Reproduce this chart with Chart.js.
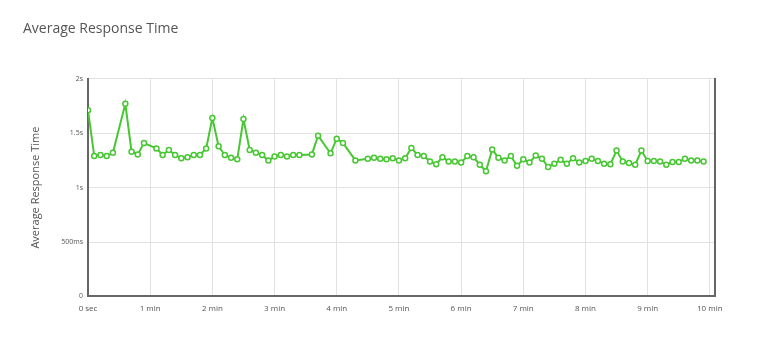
<!DOCTYPE html>
<html>
<head>
<meta charset="utf-8">
<script src="https://cdn.jsdelivr.net/npm/chart.js@4.4.1/dist/chart.umd.min.js"></script>
<style>
  html, body { margin: 0; padding: 0; background: #fff; }
  #chart { display: block; }
</style>
</head>
<body>
<canvas id="chart" width="764" height="340"></canvas>
<script>
// sample times in seconds, values in seconds
const times = [
  0, 6, 12, 18, 24, 36, 42, 48, 54, 66, 72, 78, 84, 90, 96, 102, 108, 114, 120, 126, 132, 138, 144, 150,
  156, 162, 168, 174, 180, 186, 192, 198, 204, 216, 222, 234, 240, 246, 258, 270, 276, 282, 288, 294, 300,
  306, 312, 318, 324, 330, 336, 342, 348, 354, 360, 366, 372, 378, 384, 390, 396, 402, 408, 414, 420, 426, 432, 438, 444, 450,
  456, 462, 468, 474, 480, 486, 492, 498, 504, 510, 516, 522, 528, 534, 540, 546, 552, 558, 564, 570, 576, 582, 588, 594
];
const responseTimes = [
  1.71, 1.29, 1.30, 1.29, 1.32, 1.77, 1.33, 1.305, 1.41, 1.36, 1.30, 1.345, 1.30, 1.27, 1.28, 1.30, 1.30, 1.36, 1.64, 1.38, 1.30, 1.275, 1.26, 1.63,
  1.345, 1.32, 1.30, 1.25, 1.285, 1.30, 1.285, 1.30, 1.30, 1.305, 1.477, 1.315, 1.45, 1.41, 1.25, 1.265, 1.275, 1.265, 1.26, 1.27, 1.25,
  1.27, 1.365, 1.30, 1.29, 1.24, 1.215, 1.28, 1.24, 1.24, 1.23, 1.29, 1.28, 1.21, 1.15, 1.35, 1.275, 1.25, 1.29, 1.20, 1.26, 1.23, 1.295, 1.265, 1.19, 1.22,
  1.255, 1.22, 1.27, 1.23, 1.245, 1.265, 1.245, 1.22, 1.215, 1.34, 1.24, 1.225, 1.21, 1.34, 1.245, 1.245, 1.24, 1.21, 1.235, 1.235, 1.265, 1.25, 1.25, 1.24
];
const xTickStep = 60;
const yTickStep = 0.5;

const points = times.map((t, i) => ({ x: t, y: responseTimes[i] }));
const green = '#47c832';
const gridColor = '#e2e2e2';
const axisColor = '#666';
const font = "'Open Sans', sans-serif";

new Chart(document.getElementById('chart'), {
  type: 'line',
  data: {
    datasets: [{
      data: points,
      borderColor: green,
      borderWidth: 2,
      tension: 0,
      pointRadius: 2.5,
      pointBorderWidth: 1.5,
      pointBackgroundColor: '#fff',
      pointBorderColor: green
    }]
  },
  options: {
    responsive: false,
    animation: false,
    devicePixelRatio: 1,
    layout: { padding: { left: 23, right: 49, top: 21, bottom: 18 } },
    plugins: {
      legend: { display: false },
      tooltip: { enabled: false },
      title: {
        display: true,
        text: 'Average Response Time',
        align: 'start',
        color: '#555',
        font: { family: font, size: 14, weight: 'normal' },
        padding: { top: 0, bottom: 41 }
      }
    },
    scales: {
      x: {
        type: 'linear',
        min: 0,
        max: 605,
        grid: { color: gridColor, drawTicks: false },
        border: { color: axisColor, width: 2 },
        ticks: {
          stepSize: xTickStep,
          includeBounds: false,
          padding: 8,
          color: '#555',
          font: { family: font, size: 8 },
          maxRotation: 0,
          callback: v => v === 0 ? '0 sec' : (v / 60) + ' min'
        }
      },
      y: {
        min: 0,
        max: 2,
        grid: { color: gridColor, drawTicks: false },
        border: { color: axisColor, width: 2 },
        title: {
          display: true,
          text: 'Average Response Time',
          color: '#555',
          font: { family: font, size: 11, weight: 'normal' },
          padding: { top: 6, bottom: 14 }
        },
        ticks: {
          stepSize: yTickStep,
          padding: 5,
          color: '#555',
          font: { family: font, size: 7 },
          callback: v => v === 0 ? '0' : (v < 1 ? (v * 1000) + 'ms' : v + 's')
        }
      },
      y2: {
        position: 'right',
        min: 0,
        max: 2,
        grid: { display: false, drawTicks: false },
        border: { color: axisColor, width: 2 },
        ticks: { display: false }
      }
    }
  }
});
</script>
</body>
</html>
